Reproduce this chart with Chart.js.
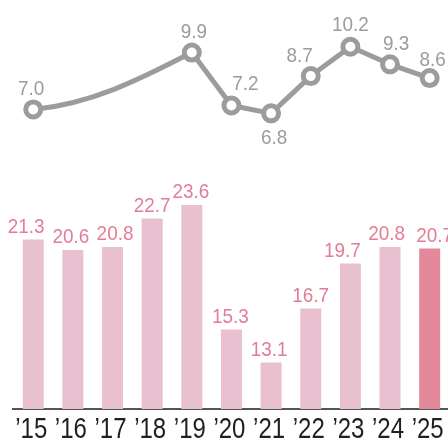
<!DOCTYPE html>
<html>
<head>
<meta charset="utf-8">
<script src="https://cdn.jsdelivr.net/npm/chart.js@4"></script>
<style>
  html, body { margin: 0; padding: 0; background: #fff; overflow: hidden; }
  #wrap { width: 452px; height: 441px; }
</style>
</head>
<body>
<div id="wrap"><canvas id="chart" width="452" height="441"></canvas></div>
<script>
// values
const years = ['’15', '’16', '’17', '’18', '’19', '’20', '’21', '’22', '’23', '’24', '’25'];
const barValues = [21.3, 20.6, 20.8, 22.7, 23.6, 15.3, 13.1, 16.7, 19.7, 20.8, 20.7];
const lineValues = [7.0, null, null, null, 9.9, 7.2, 6.8, 8.7, 10.2, 9.3, 8.6];

const barColors = years.map((y, i) => i === years.length - 1 ? '#e4899c' : '#e8c0cf');
const gray = '#9c9c9c';
const pink = '#e37d96';
const font = '"Liberation Sans", Arial, sans-serif';

// label nudges, as placed in the original
const barLabelShift = [-7, -2, 2.5, 0, -1, -1, -2, 0, -8, -3.5, 5];
const lineLabelShift = {
    0: [-2, -22], 4: [2, -22], 5: [14, -23], 6: [3, 23],
    7: [-11, -22], 8: [0, -23], 9: [6, -22], 10: [3, -20]
};

// narrow text: squeeze the normal face a little
function narrowText(ctx, text, x, y, squeeze) {
    ctx.fillText(text, x, y, ctx.measureText(text).width * squeeze);
}

// the '15 -> '19 stretch has no yearly points, the original bends it
const gapCurve = {
    id: 'gapCurve',
    beforeDatasetsDraw(chart) {
        const pts = chart.getDatasetMeta(0).data;
        const a = pts[0], b = pts[4];
        const dx = b.x - a.x, dy = Math.abs(b.y - a.y);
        const ctx = chart.ctx;
        ctx.save();
        ctx.strokeStyle = gray;
        ctx.lineWidth = 5;
        ctx.beginPath();
        ctx.moveTo(a.x, a.y);
        ctx.bezierCurveTo(a.x + dx * 0.4, a.y - dy * 0.1, b.x - dx * 0.25, b.y + dy * 0.35, b.x, b.y);
        ctx.stroke();
        ctx.restore();
    }
};

const valueLabels = {
    id: 'valueLabels',
    afterDatasetsDraw(chart) {
        const ctx = chart.ctx;
        const area = chart.chartArea;
        ctx.save();
        ctx.textAlign = 'center';
        ctx.textBaseline = 'alphabetic';

        // bars
        ctx.fillStyle = pink;
        ctx.font = '21px ' + font;
        chart.getDatasetMeta(1).data.forEach((bar, i) => {
            narrowText(ctx, barValues[i].toFixed(1), bar.x + barLabelShift[i], bar.y - 7, 0.9);
        });

        // line points
        ctx.fillStyle = gray;
        ctx.font = '21px ' + font;
        chart.getDatasetMeta(0).data.forEach((pt, i) => {
            if (lineValues[i] === null) return;
            const s = lineLabelShift[i] || [0, -22];
            narrowText(ctx, lineValues[i].toFixed(1), pt.x + s[0], pt.y + s[1] + 7.5, 0.9);
        });

        // year labels under the axis
        const x = chart.scales.x;
        ctx.fillStyle = '#231f20';
        ctx.font = '29px ' + font;
        years.forEach((label, i) => {
            ctx.fillText(label, x.getPixelForValue(i) - 2, area.bottom + 29, 32);
        });
        ctx.restore();
    }
};

new Chart(document.getElementById('chart'), {
    data: {
        labels: years,
        datasets: [
            {
                type: 'line',
                data: lineValues,
                yAxisID: 'yLine',
                spanGaps: false,
                tension: 0,
                borderColor: gray,
                borderWidth: 5,
                borderJoinStyle: 'round',
                pointRadius: 7.5,
                pointBorderWidth: 5,
                pointBackgroundColor: '#fff',
                pointBorderColor: gray,
                order: 0
            },
            {
                type: 'bar',
                data: barValues,
                yAxisID: 'yBar',
                backgroundColor: barColors,
                categoryPercentage: 1,
                barPercentage: 0.53,
                order: 1
            }
        ]
    },
    options: {
        responsive: false,
        animation: false,
        devicePixelRatio: 1,
        layout: { autoPadding: false, padding: { left: 13.4, right: 2.5, top: 0, bottom: 0 } },
        plugins: { legend: { display: false }, tooltip: { enabled: false } },
        scales: {
            x: {
                offset: true,
                grid: { display: false, drawTicks: false },
                border: { display: true, color: '#555', width: 2 },
                ticks: { display: false },
                afterFit(scale) { scale.height = 32; }
            },
            yBar: {
                display: false,
                min: 10,
                max: 10 + 409 / 15
            },
            yLine: {
                display: false,
                min: 10.2 - (409 - 46.7) / 19.6,
                max: 10.2 + 46.7 / 19.6
            }
        }
    },
    plugins: [gapCurve, valueLabels]
});
</script>
</body>
</html>
